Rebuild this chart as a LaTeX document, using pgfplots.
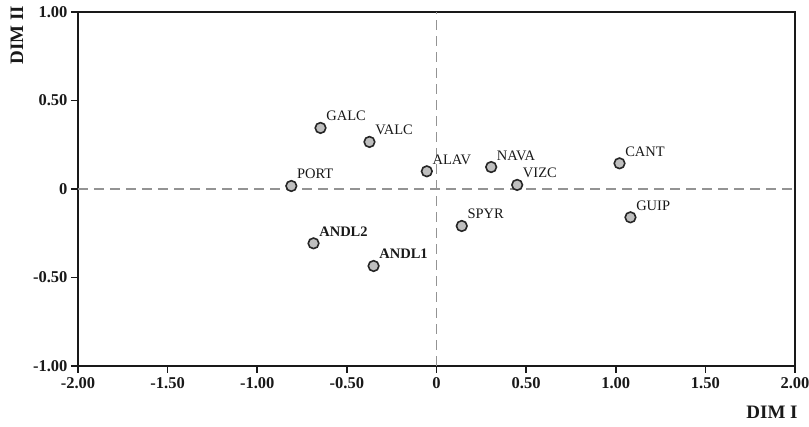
\documentclass[border=0pt]{standalone}
\usepackage{pgfplots}
\pgfplotsset{compat=1.18}
\usepackage{fontspec}
\setmainfont{Liberation Serif}
\pgfplotstableread{
x y label
-0.647 0.345 GALC
-0.374 0.266 VALC
-0.054 0.100 ALAV
-0.810 0.017 PORT
0.141 -0.209 SPYR
0.305 0.124 NAVA
0.450 0.023 VIZC
1.021 0.145 CANT
1.082 -0.160 GUIP
}\regular
\pgfplotstableread{
x y label
-0.686 -0.307 ANDL2
-0.351 -0.435 ANDL1
}\boldpts
\begin{document}
\begin{tikzpicture}
\useasboundingbox (-78pt,-61pt) rectangle (731pt,366pt);
\begin{axis}[
  at={(0pt,0pt)}, anchor=south west,
  width=717pt, height=354pt, scale only axis,
  xmin=-2, xmax=2, ymin=-1, ymax=1,
  xtick={-2,-1.5,-1,-0.5,0,0.5,1,1.5,2},
  xticklabels={-2.00,-1.50,-1.00,-0.50,0,0.50,1.00,1.50,2.00},
  ytick={-1,-0.5,0,0.5,1},
  yticklabels={-1.00,-0.50,0,0.50,1.00},
  tick pos=left, tick align=outside,
  major tick length=7pt,
  tick style={black!90, line width=1.6pt},
  axis line style={black!90, line width=1.6pt},
  ticklabel style={font=\fontsize{16.5}{18}\selectfont\bfseries, text=black!90},
  xticklabel style={yshift=-1pt},
  clip=false,
]
\addplot[gray!85, line width=1.3pt, dash pattern=on 10pt off 6pt] coordinates {(-2,0) (2,0)};
\addplot[gray!85, line width=1.3pt, dash pattern=on 10pt off 6pt] coordinates {(0,-1) (0,1)};
\addplot[only marks, mark=*, mark size=5.3pt,
  mark options={fill=gray!50, draw=black!85, line width=1.6pt},
  nodes near coords, point meta=explicit symbolic,
  every node near coord/.append style={anchor=base west, inner sep=0pt, xshift=5pt, yshift=7pt, font=\fontsize{14.5}{16}\selectfont, text=black!90}]
  table[x=x, y=y, meta=label]{\regular};
\addplot[only marks, mark=*, mark size=5.3pt,
  mark options={fill=gray!50, draw=black!85, line width=1.6pt},
  nodes near coords, point meta=explicit symbolic,
  every node near coord/.append style={anchor=base west, inner sep=0pt, xshift=5pt, yshift=7pt, font=\fontsize{14.5}{16}\selectfont\bfseries, text=black!90}]
  table[x=x, y=y, meta=label]{\boldpts};
\end{axis}
\node[rotate=90, font=\fontsize{19}{20}\selectfont\bfseries, text=black!90] at (-61pt,331pt) {DIM II};
\node[font=\fontsize{19}{20}\selectfont\bfseries, text=black!90] at (694pt,-46pt) {DIM I};
\end{tikzpicture}
\end{document}
